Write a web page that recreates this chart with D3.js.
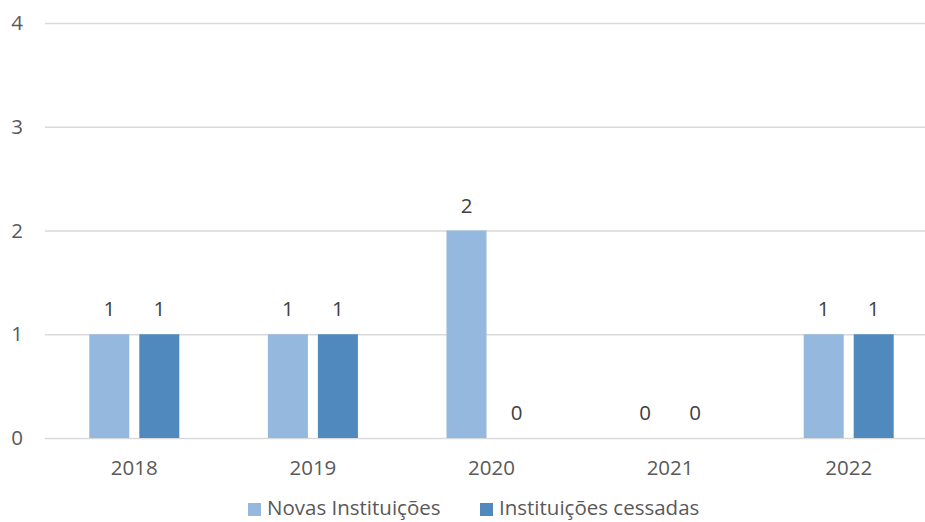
<!DOCTYPE html>
<html><head><meta charset="utf-8">
<script src="https://cdn.jsdelivr.net/npm/d3@7"></script>
<style>body{margin:0;background:#fff;} svg{display:block;}</style>
</head><body>
<svg id="c" width="925" height="522"></svg>
<script>
const categories = ["2018","2019","2020","2021","2022"];
const seriesNames = ["Novas Instituições","Instituições cessadas"];
const novas = [1,1,2,0,1];
const cessadas = [1,1,0,0,1];
const yTicks = [0,1,2,3,4];
const colors = ["#95B8DF","#4F89BE"];
const font = "'Open Sans', sans-serif";
const textColor = "#595959";
const fs = 20.5;

const svg = d3.select("#c");
const x = d3.scaleBand().domain(categories).range([45, 938]);
const xs = d3.scaleBand().domain([0,1]).range([0, 90]).paddingInner(0.2);
const y = d3.scaleLinear().domain([0,4]).range([438, 23]);

svg.append("g").selectAll("line").data(yTicks).join("line")
  .attr("x1", 45).attr("x2", 925)
  .attr("y1", d => y(d)+0.5).attr("y2", d => y(d)+0.5)
  .attr("stroke", "#D9D9D9").attr("stroke-width", 1.3);

svg.append("g").selectAll("text").data(yTicks).join("text")
  .attr("x", 23).attr("y", d => y(d)).attr("dy", "0.35em")
  .attr("text-anchor", "end").attr("font-family", font).attr("font-size", fs)
  .attr("fill", textColor).text(d => d);

const data = [novas, cessadas];
const groups = svg.append("g");
data.forEach((vals, si) => {
  const g = groups.append("g");
  g.selectAll("rect").data(vals).join("rect")
    .attr("x", (d,i) => x(categories[i]) + x.bandwidth()/2 - 45 + xs(si))
    .attr("width", xs.bandwidth())
    .attr("y", d => y(d))
    .attr("height", d => y(0) - y(d))
    .attr("fill", colors[si]);
  g.selectAll("text").data(vals).join("text")
    .attr("x", (d,i) => x(categories[i]) + x.bandwidth()/2 - 45 + xs(si) + xs.bandwidth()/2)
    .attr("y", d => y(d) - 25).attr("dy", "0.35em")
    .attr("text-anchor", "middle").attr("font-family", font).attr("font-size", fs)
    .attr("fill", "#404040").text(d => d);
});

svg.append("g").selectAll("text").data(categories).join("text")
  .attr("x", d => x(d) + x.bandwidth()/2).attr("y", 468).attr("dy", "0.35em")
  .attr("text-anchor", "middle").attr("font-family", font).attr("font-size", fs)
  .attr("fill", textColor).text(d => d);

const legendX = [248, 480];
seriesNames.forEach((n, i) => {
  svg.append("rect").attr("x", legendX[i]).attr("y", 503).attr("width", 13).attr("height", 13).attr("fill", colors[i]);
  svg.append("text").attr("x", legendX[i] + 19).attr("y", 508).attr("dy", "0.35em")
    .attr("font-family", font).attr("font-size", fs).attr("fill", textColor).text(n);
});
</script>
</body></html>
